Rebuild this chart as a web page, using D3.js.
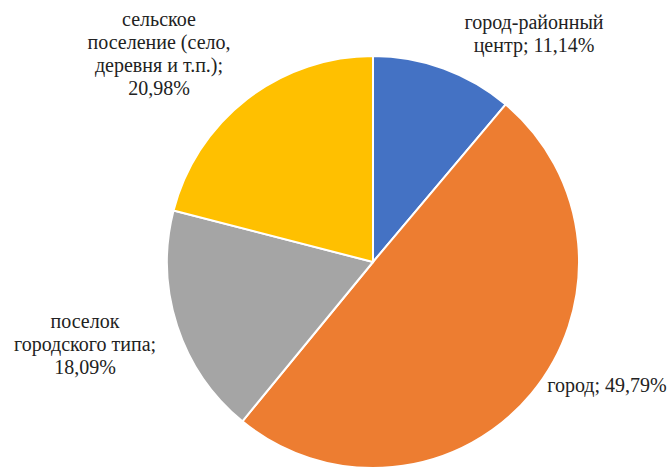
<!DOCTYPE html>
<html>
<head>
<meta charset="utf-8">
<script src="https://cdn.jsdelivr.net/npm/d3@7"></script>
<style>
  body { margin: 0; background: #fff; font-family: 'Liberation Serif', serif; }
  svg text { font-family: 'Liberation Serif', serif; }
  .preload { position: absolute; left: 0; top: 0; visibility: hidden; font-family: 'Liberation Serif'; font-size: 20px; }
</style>
</head>
<body>
<div class="preload">город-районный центр; 0123456789%</div>
<div id="chart"></div>
<script>
// Data
var categories = ["город-районный центр", "город", "поселок городского типа", "сельское поселение (село, деревня и т.п.)"];
var shares = [11.14, 49.79, 18.09, 20.98];
var colors = ["#4472C4", "#ED7D31", "#A5A5A5", "#FFC000"];
// Label lines as they wrap in the original
var labelLines = [
    ["город-районный", "центр; 11,14%"],
    ["город; 49,79%"],
    ["поселок", "городского типа;", "18,09%"],
    ["сельское", "поселение (село,", "деревня и т.п.);", "20,98%"]
];

var width = 671, height = 468;
var cx = 373, cy = 262, radius = 206;

var svg = d3.select("#chart").append("svg")
    .attr("width", width)
    .attr("height", height);

var chart = svg.append("g")
    .attr("transform", "translate(" + cx + "," + cy + ")");

var pie = d3.pie().sort(null).value(function (d) { return d; });
var arc = d3.arc().innerRadius(0).outerRadius(radius);
var arcs = pie(shares);

chart.selectAll("path")
    .data(arcs)
    .enter()
    .append("path")
    .attr("d", arc)
    .attr("fill", function (d, i) { return colors[i]; })
    .attr("stroke", "#fff")
    .attr("stroke-width", 2);

// Label anchor points (first-line baseline), outside the slices like Excel does
var labelPos = [
    [161, -233],
    [234, 130],
    [-288, 66],
    [-214, -236]
];
var lineHeight = 23;

var labels = chart.selectAll("g.label")
    .data(arcs)
    .enter()
    .append("g")
    .classed("label", true)
    .attr("transform", function (d, i) {
        return "translate(" + labelPos[i][0] + "," + labelPos[i][1] + ")";
    });

labels.each(function (d, i) {
    var t = d3.select(this).append("text")
        .attr("text-anchor", "middle")
        .attr("font-size", 20)
        .attr("fill", "#222");
    labelLines[i].forEach(function (line, j) {
        t.append("tspan")
            .attr("x", 0)
            .attr("y", j * lineHeight)
            .text(line);
    });
});
</script>
</body>
</html>
